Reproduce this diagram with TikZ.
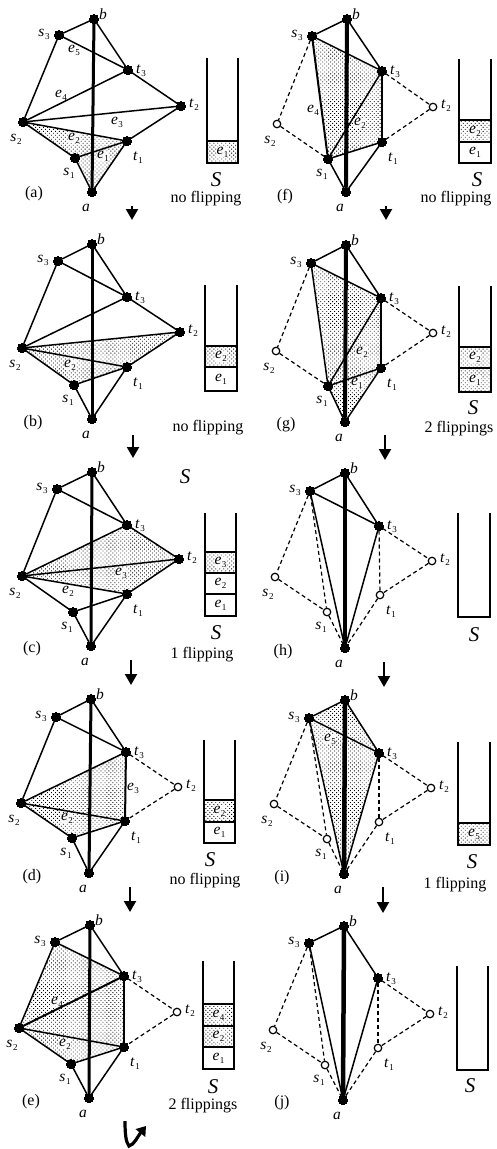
\documentclass[tikz,border=0pt]{standalone}
\usepackage{fontspec}
\setmainfont{Liberation Serif}
\usetikzlibrary{arrows.meta,patterns.meta,backgrounds}
\newcommand\vl[2]{\textit{#1}\kern0.5pt\raisebox{-3pt}{\fontsize{9}{10}\selectfont #2}}
\newcommand\panel[9]{%
  \node[s3v] (#1s3) at (#3) {};
  \node[bv] (#1b) at (#2) {};
  \node[t3v] (#1t3) at (#4) {};
  \node[t2v] (#1t2) at (#5) {};
  \node[s2v] (#1s2) at (#6) {};
  \node[t1v] (#1t1) at (#7) {};
  \node[s1v] (#1s1) at (#8) {};
  \node[bv] (#1a) at (#9) {};
  \node[lab] (#1Ls3) at ([shift={(-15,-1)}]#1s3.center) {\vl{s}{3}};
  \node[lab] (#1Lb) at ([shift={(9,-5)}]#1b.center) {\textit{b}};
  \node[lab] (#1Lt3) at ([shift={(13,1)}]#1t3.center) {\vl{t}{3}};
  \node[lab] (#1Lt2) at ([shift={(13,-1)}]#1t2.center) {\vl{t}{2}};
  \node[lab] (#1Ls2) at ([shift={(-7,17)}]#1s2.center) {\vl{s}{2}};
  \node[lab] (#1Lt1) at ([shift={(11,17)}]#1t1.center) {\vl{t}{1}};
  \node[lab] (#1Ls1) at ([shift={(-6,15)}]#1s1.center) {\vl{s}{1}};
  \node[lab] (#1La) at ([shift={(-6,16)}]#1a.center) {\textit{a}};
  \draw[axisln] (#1a) -- (#1b);
  \draw[ln] (#1b) -- (#1s3);
  \draw[ln] (#1b) -- (#1t3);
}
\newcommand\eds[3][ln]{\foreach \u/\v in {#3} {\draw[#1] (#2\u) -- (#2\v);}}
\newcommand\shd[1]{\begin{pgfonlayer}{background}\fill[dotfill] #1;\end{pgfonlayer}}
\newcommand\elbl[3]{\begin{pgfonlayer}{background}\node[elab] (#1) at (#2) {#3};\end{pgfonlayer}}
\newcommand\stk[6]{% name, xl, xr, top, bottom, width
  \coordinate (#1A) at (#2,#4); \coordinate (#1B) at (#2,#5);
  \coordinate (#1C) at (#3,#5); \coordinate (#1D) at (#3,#4);
  \draw[line width=#6,line join=miter] (#1A) -- (#1B) -- (#1C) -- (#1D);
}
\newcommand\stcell[7]{% name, xl, xr, ytop, ybot, style, text
  \coordinate (#1l) at (#2,#4); \coordinate (#1r) at (#3,#4);
  \coordinate (#1q) at (#3,#5);
  \begin{pgfonlayer}{background}\fill[#6] (#1l) rectangle (#1q);
  \node[elab] (#1t) at ({(#2+#3)/2},{(#4+#5)/2}) {#7};\end{pgfonlayer}
  \draw[line width=1.2pt] (#1l) -- (#1r);
}
\newcommand\flowar[4]{\coordinate (#1A) at (#2,#3); \coordinate (#1B) at (#2,#4);
  \draw[flowst] (#1A) -- (#1B);}
\tikzset{
  x=1pt,y=-1pt,
  vtx/.style={circle,fill=black,draw=black,line width=0pt,inner sep=0pt,minimum size=9pt},
  ovt/.style={circle,fill=white,draw=black,line width=1.2pt,inner sep=0pt,minimum size=7.5pt},
  bv/.style={vtx}, s1v/.style={vtx}, s2v/.style={vtx}, s3v/.style={vtx},
  t1v/.style={vtx}, t2v/.style={vtx}, t3v/.style={vtx},
  lab/.style={inner sep=0pt,font=\fontsize{15.5}{16}\selectfont},
  elab/.style={lab,fill=white,fill opacity=0.85,text opacity=1},
  txt/.style={inner sep=0pt,font=\fontsize{16}{17}\selectfont},
  big/.style={inner sep=0pt,font=\fontsize{21}{21}\selectfont\itshape},
  ln/.style={line width=1.5pt},
  hln/.style={line width=2pt},
  dsh/.style={line width=1.2pt,dash pattern=on 4pt off 3pt},
  axisln/.style={line width=3pt},
  dotfill/.style={pattern={Dots[radius=0.6pt,distance=2.8pt,angle=45]},pattern color=black},
  plainc/.style={fill=white},
  flowst/.style={line width=2.2pt,-{Triangle[width=12pt,length=11pt]}},
}
\begin{document}
\begin{tikzpicture}
\begin{pgfonlayer}{background}\fill[white] (0,0) rectangle (497,1149);\end{pgfonlayer}
\useasboundingbox (0,0) rectangle (497,1149);

% ---------- (a)
\begin{scope}
\panel{pa-}{94,19}{59,35}{128,70}{181,106}{23,122}{127,141}{75,158}{92,192}
\shd{(pa-s2.center) -- (pa-t1.center) -- (pa-a.center) -- (pa-s1.center) -- cycle}
\eds{pa-}{s3/t3,s3/s2,s2/t3,s2/t2,t3/t2,t2/t1,s2/t1,s2/s1,s1/t1,s1/a,t1/a}
\elbl{pa-e5}{74,50}{\vl{e}{5}}
\elbl{pa-e4}{61,95}{\vl{e}{4}}
\elbl{pa-e3}{117,122}{\vl{e}{3}}
\elbl{pa-e2}{74,138}{\vl{e}{2}}
\elbl{pa-e1}{103,156}{\vl{e}{1}}
\stk{pa-st}{207}{238}{58}{163}{1.6pt}
\stcell{pa-c1}{207}{238}{141}{163}{dotfill}{\vl{e}{1}}
\node[big] (pa-S) at (216,180) {S};
\node[txt] (pa-cap) at (206,199) {no flipping};
\node[txt] (pa-name) at (34,194) {(a)};
\flowar{pa-ar}{132}{206}{220}
\end{scope}

% ---------- (b)
\begin{scope}
\panel{pb-}{92,244}{58,261}{127,297}{180,332}{22,348}{127,367}{74,385}{92,419}
\shd{(pb-s2.center) -- (pb-t2.center) -- (pb-t1.center) -- (pb-s1.center) -- cycle}
\eds{pb-}{s3/t3,s3/s2,s2/t3,s2/t2,t3/t2,t2/t1,s2/t1,s2/s1,s1/t1,s1/a,t1/a}
\elbl{pb-e2}{70,365}{\vl{e}{2}}
\stk{pb-st}{205}{237}{285}{391}{1.6pt}
\stcell{pb-c2}{205}{237}{346}{367}{dotfill}{\vl{e}{2}}
\stcell{pb-c1}{205}{237}{367}{391}{plainc}{\vl{e}{1}}
\node[txt] (pb-cap) at (208,428) {no flipping};
\node[txt] (pb-name) at (33,423) {(b)};
\flowar{pb-ar}{133}{435}{458}
\end{scope}

% ---------- (c)
\begin{scope}
\panel{pc-}{92,472}{57,489}{127,525}{179,559}{22,576}{127,594}{73,612}{91,646}
\shd{(pc-s2.center) -- (pc-t3.center) -- (pc-t2.center) -- (pc-t1.center) -- cycle}
\eds{pc-}{s3/t3,s3/s2,s2/t3,s2/t2,t3/t2,t2/t1,s2/t1,s2/s1,s1/t1,s1/a,t1/a}
\elbl{pc-e3}{121,573}{\vl{e}{3}}
\elbl{pc-e2}{68,591}{\vl{e}{2}}
\node[big] (pc-S0) at (185,477) {S};
\stk{pc-st}{205}{236}{513}{616}{1.3pt}
\stcell{pc-c3}{205}{236}{552}{573}{dotfill}{\vl{e}{3}}
\stcell{pc-c2}{205}{236}{573}{594}{plainc}{\vl{e}{2}}
\stcell{pc-c1}{205}{236}{594}{616}{plainc}{\vl{e}{1}}
\node[big] (pc-S) at (216,633) {S};
\node[txt] (pc-cap) at (202,655) {1 flipping};
\node[txt] (pc-name) at (32,649) {(c)};
\flowar{pc-ar}{131}{660}{685}
\end{scope}

% ---------- (d)
\begin{scope}[t2v/.style={ovt}]
\panel{pd-}{91,699}{56,717}{126,752}{178,787}{21,803}{125,821}{72,838}{89,873}
\shd{(pd-s2.center) -- (pd-t3.center) -- (pd-t1.center) -- (pd-s1.center) -- cycle}
\eds{pd-}{s3/t3,s3/s2,s2/t3,s2/t1,s2/s1,s1/t1,s1/a,t1/a}
\eds[hln]{pd-}{t3/t1}
\eds[dsh]{pd-}{t3/t2,t2/t1}
\elbl{pd-e3}{133,788}{\vl{e}{3}}
\elbl{pd-e2}{67,818}{\vl{e}{2}}
\stk{pd-st}{204}{235}{740}{843}{1.6pt}
\stcell{pd-c2}{204}{235}{800}{822}{dotfill}{\vl{e}{2}}
\stcell{pd-c1}{204}{235}{822}{843}{plainc}{\vl{e}{1}}
\node[big] (pd-S) at (210,860) {S};
\node[txt] (pd-cap) at (205,881) {no flipping};
\node[txt] (pd-name) at (32,877) {(d)};
\flowar{pd-ar}{130}{887}{912}
\end{scope}

% ---------- (e)
\begin{scope}[t2v/.style={ovt}]
\panel{pe-}{90,925}{55,942}{124,976}{177,1012}{19,1028}{124,1047}{71,1064}{89,1098}
\shd{(pe-s2.center) -- (pe-s3.center) -- (pe-t3.center) -- (pe-t1.center) -- (pe-s1.center) -- cycle}
\eds{pe-}{s3/t3,s3/s2,s2/t1,s2/s1,s1/t1,s1/a,t1/a}
\eds[hln]{pe-}{t3/t1,s2/t3}
\eds[dsh]{pe-}{t3/t2,t2/t1}
\elbl{pe-e4}{57,1002}{\vl{e}{4}}
\elbl{pe-e2}{65,1044}{\vl{e}{2}}
\stk{pe-st}{203}{234}{961}{1069}{1.6pt}
\stcell{pe-c4}{203}{234}{1004}{1026}{dotfill}{\vl{e}{4}}
\stcell{pe-c2}{203}{234}{1026}{1047}{dotfill}{\vl{e}{2}}
\stcell{pe-c1}{203}{234}{1047}{1069}{plainc}{\vl{e}{1}}
\node[big] (pe-S) at (213,1087) {S};
\node[txt] (pe-cap) at (203,1106) {2 flippings};
\node[txt] (pe-name) at (31,1102) {(e)};
\coordinate (pe-arA) at (125,1121); \coordinate (pe-arB) at (129,1146); \coordinate (pe-arC) at (146,1126);
\draw[line width=3.2pt,-{Triangle[width=12pt,length=9pt]}] (pe-arA) .. controls (125,1135) and (126,1142) .. (pe-arB) .. controls (134,1145) and (138,1136) .. (pe-arC);
\end{scope}

% ---------- (f)
\begin{scope}[t2v/.style={ovt},s2v/.style={ovt},axisln/.style={line width=4pt}]
\panel{pf-}{347,19}{312,36}{382,71}{433,107}{277,124}{382,142}{328,159}{346,192}
\shd{(pf-s3.center) -- (pf-t3.center) -- (pf-t1.center) -- (pf-s1.center) -- cycle}
\eds{pf-}{s3/t3,s1/t3,s1/t1,s1/a,t1/a}
\eds[hln]{pf-}{t3/t1,s3/s1}
\eds[dsh]{pf-}{s3/s2,s2/s1,t3/t2,t2/t1}
\elbl{pf-e4}{313,110}{\vl{e}{4}}
\elbl{pf-e2}{360,123}{\vl{e}{2}}
\stk{pf-st}{459}{491}{59}{163}{2.2pt}
\stcell{pf-c2}{459}{491}{120}{142}{dotfill}{\vl{e}{2}}
\stcell{pf-c1}{459}{491}{142}{163}{plainc}{\vl{e}{1}}
\node[big] (pf-S) at (477,180) {S};
\node[txt] (pf-cap) at (456,199) {no flipping};
\node[txt] (pf-name) at (285,197) {(f)};
\flowar{pf-ar}{386}{206}{220}
\end{scope}

% ---------- (g)
\begin{scope}[t2v/.style={ovt},s2v/.style={ovt},axisln/.style={line width=4pt}]
\panel{pg-}{346,245}{311,263}{381,298}{433,333}{276,351}{381,368}{328,386}{345,422}
\shd{(pg-s3.center) -- (pg-t3.center) -- (pg-t1.center) -- (pg-a.center) -- (pg-s1.center) -- cycle}
\eds{pg-}{s3/t3,s3/s1,s1/t3,s1/t1,s1/a,t1/a}
\eds[hln]{pg-}{t3/t1}
\eds[dsh]{pg-}{s3/s2,s2/s1,t3/t2,t2/t1}
\elbl{pg-e2}{362,352}{\vl{e}{2}}
\elbl{pg-e1}{357,383}{\vl{e}{1}}
\stk{pg-st}{459}{491}{286}{392}{2.2pt}
\stcell{pg-c2}{459}{491}{347}{368}{dotfill}{\vl{e}{2}}
\stcell{pg-c1}{459}{491}{368}{392}{dotfill}{\vl{e}{1}}
\node[big] (pg-S) at (473,408) {S};
\node[txt] (pg-cap) at (459,429) {2 flippings};
\node[txt] (pg-name) at (286,425) {(g)};
\flowar{pg-ar}{385}{435}{460}
\end{scope}

% ---------- (h)
\begin{scope}[t2v/.style={ovt},s2v/.style={ovt},s1v/.style={ovt},t1v/.style={ovt},axisln/.style={line width=4.5pt}]
\panel{ph-}{345,473}{310,491}{379,526}{432,561}{275,577}{380,595}{327,612}{345,648}
\eds{ph-}{s3/t3,s3/a,t3/a}
\eds[dsh]{ph-}{s3/s2,s2/s1,t3/t2,t2/t1,s3/s1,s1/a,t3/t1,t1/a}
\stk{ph-st}{458}{490}{513}{617}{1.8pt}
\node[big] (ph-S) at (474,635) {S};
\node[txt] (ph-name) at (283,652) {(h)};
\flowar{ph-ar}{384}{662}{687}
\end{scope}

% ---------- (i)
\begin{scope}[t2v/.style={ovt},s2v/.style={ovt},s1v/.style={ovt},t1v/.style={ovt},axisln/.style={line width=4.5pt}]
\panel{pi-}{345,700}{309,718}{379,753}{431,788}{274,804}{379,822}{327,839}{344,874}
\shd{(pi-s3.center) -- (pi-b.center) -- (pi-t3.center) -- (pi-a.center) -- cycle}
\eds{pi-}{s3/t3,s3/a,t3/a}
\eds[dsh]{pi-}{s3/s2,s2/s1,t3/t2,t2/t1,s3/s1,s1/a,t3/t1,t1/a}
\elbl{pi-e5}{330,739}{\vl{e}{5}}
\stk{pi-st}{458}{490}{742}{845}{2.2pt}
\stcell{pi-c5}{458}{490}{823}{845}{dotfill}{\vl{e}{5}}
\node[big] (pi-S) at (472,862) {S};
\node[txt] (pi-cap) at (455,885) {1 flipping};
\node[txt] (pi-name) at (282,878) {(i)};
\flowar{pi-ar}{383}{887}{913}
\end{scope}

% ---------- (j)
\begin{scope}[t2v/.style={ovt},s2v/.style={ovt},s1v/.style={ovt},t1v/.style={ovt},axisln/.style={line width=4.5pt}]
\panel{pj-}{344,926}{309,943}{378,978}{430,1014}{273,1030}{378,1048}{325,1065}{343,1100}
\eds{pj-}{s3/a,t3/a}
\eds[dsh]{pj-}{s3/s2,s2/s1,t3/t2,t2/t1,s3/s1,s1/a,t3/t1,t1/a}
\stk{pj-st}{457}{488}{966}{1070}{1.8pt}
\node[big] (pj-S) at (470,1086) {S};
\node[txt] (pj-name) at (282,1103) {(j)};
\end{scope}
\end{tikzpicture}
\end{document}
